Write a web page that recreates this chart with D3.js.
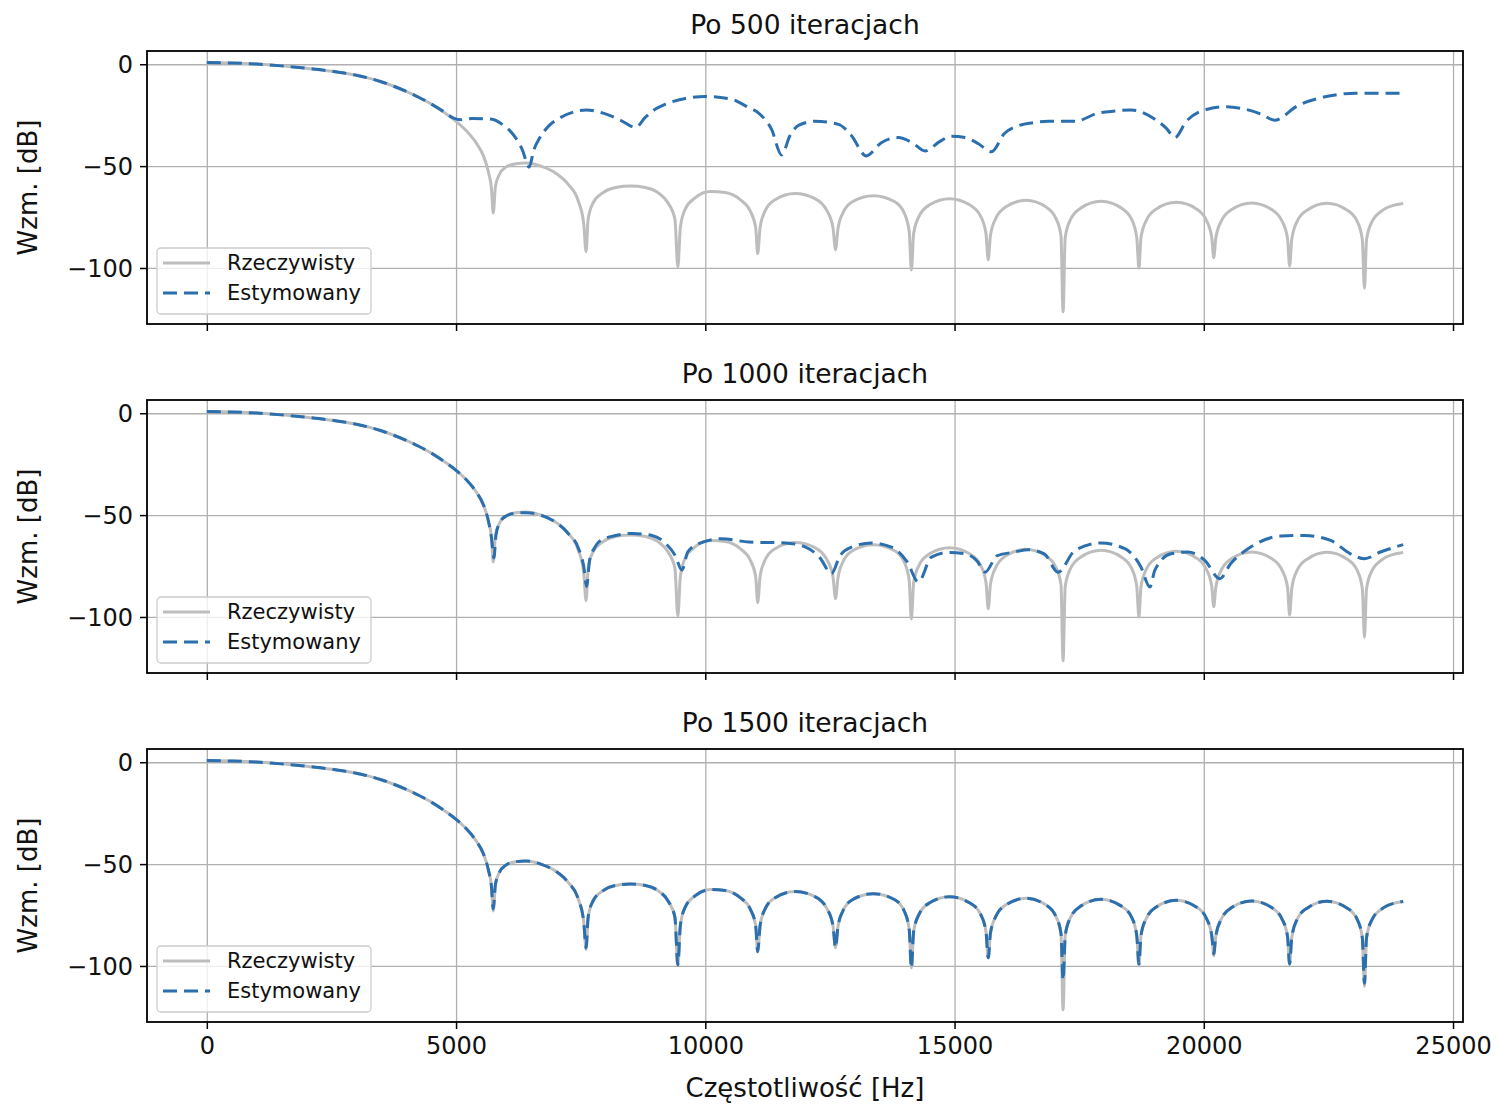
<!DOCTYPE html>
<html>
<head>
<meta charset="utf-8">
<script src="https://cdn.jsdelivr.net/npm/d3@7"></script>
<style>
    body { margin: 0; background: #fff; }
    text { font-family: "DejaVu Sans", sans-serif; fill: #111; }
</style>
</head>
<body>
<div id="chart"></div>
<script>
// --- data ---
var titles = ["Po 500 iteracjach", "Po 1000 iteracjach", "Po 1500 iteracjach"];
var seriesNames = ["Rzeczywisty", "Estymowany"];
var xTicks = [0, 5000, 10000, 15000, 20000, 25000];
var yTicks = [0, -50, -100];

// real response (same in every panel) and estimate after 1500 iterations
var freqReal = [0,500,1000,1500,2000,2500,2750,3000,3250,3500,3750,4000,4250,4500,4750,5000,5200,5400,5550,5650,5710,5746,
    5790,5870,6000,6200,6400,6700,7000,7250,7450,7560,7608,
    7650,7750,7950,8200,8500,8800,9050,9250,9390,9449,
    9500,9600,9800,10100,10400,10700,10900,11010,11051,
    11100,11200,11400,11800,12200,12430,12560,12613,
    12660,12760,12950,13370,13800,13990,14090,14134,
    14180,14290,14500,14900,15300,15520,15630,15676,
    15720,15830,16030,16430,16830,17030,17135,17177,
    17220,17330,17540,17940,18340,18550,18655,18699,
    18740,18850,19050,19450,19850,20050,20160,20200,
    20240,20350,20560,20960,21360,21570,21680,21722,
    21765,21875,22080,22470,22870,23075,23180,23223,
    23265,23380,23600,23850,24000];
var dbReal = [0.8,0.6,0.1,-0.8,-2.0,-3.4,-4.3,-5.4,-6.8,-8.6,-10.8,-13.3,-16.2,-19.5,-23.5,-28.0,-32.5,-38.5,-45,-53,-61,-73,
    -60,-54,-50.5,-48.8,-48.5,-50,-53.5,-59,-67,-78,-92,
    -76,-68,-63,-60.5,-59.8,-60.5,-63,-68,-76,-99.5,
    -80,-71,-65.5,-62.5,-63,-66.5,-72,-80,-93,
    -80,-72,-66.5,-63.5,-66,-71.5,-80,-91,
    -81,-73,-67.5,-64.5,-67.5,-73,-82,-101,
    -83,-74.5,-69,-66,-69,-74.5,-83,-96,
    -84,-75.5,-70,-66.8,-70,-75.5,-84,-121.5,
    -85,-76,-70.5,-67.3,-70.5,-76,-85,-100,
    -85,-76.5,-71,-67.8,-71,-76.5,-85,-95,
    -85.5,-77,-71.3,-68.1,-71.3,-77,-85.5,-99,
    -86,-77,-71.5,-68.2,-71.5,-77,-86,-110,
    -86,-77,-71.5,-69,-68.3];
var dbEst1500 = [0.8,0.6,0.1,-0.8,-2.0,-3.4,-4.3,-5.4,-6.8,-8.6,-10.8,-13.3,-16.2,-19.5,-23.5,-28.0,-32.5,-38.5,-45,-53,-61,-72,
    -60,-54,-50.5,-48.8,-48.5,-50,-53.5,-59,-67,-78,-91,
    -76,-68,-63,-60.5,-59.8,-60.5,-63,-68,-76,-99.5,
    -80,-71,-65.5,-62.5,-63,-66.5,-72,-80,-93,
    -80,-72,-66.5,-63.5,-66,-71.5,-80,-91,
    -81,-73,-67.5,-64.5,-67.5,-73,-82,-101,
    -83,-74.5,-69,-66,-69,-74.5,-83,-96,
    -84,-75.5,-70,-66.8,-70,-75.5,-84,-107,
    -85,-76,-70.5,-67.3,-70.5,-76,-85,-99,
    -85,-76.5,-71,-67.8,-71,-76.5,-85,-94,
    -85.5,-77,-71.3,-68.1,-71.3,-77,-85.5,-99,
    -86,-77,-71.5,-68.2,-71.5,-77,-86,-108.5,
    -86,-77,-71.5,-69,-68.3];

// estimate after 500 iterations
var freq500 = [0,500,1000,1500,2000,2500,2750,3000,3250,3500,3750,4000,4250,4500,4750,4950,5100,5325,
    5725,5950,6130,6330,6466,6560,6670,
    6870,7070,7350,7610,8010,8300,8600,8800,9000,9200,9600,10000,10500,10850,11070,11330,11530,11700,11870,12200,
    12670,12930,13230,13530,13870,14150,14410,14700,14935,15210,15480,15740,16000,16276,16600,16880,17420,17880,18220,18540,
    18800,19020,19250,19420,19650,19880,20420,20820,21150,21420,21880,22540,22940,23500,24000];
var db500 = [0.8,0.6,0.1,-0.8,-2.0,-3.4,-4.3,-5.4,-6.8,-8.6,-10.8,-13.3,-16.2,-19.5,-23.2,-26.5,-27.3,-26.6,
    -27,-30,-34,-42,-50.5,-42,-36.5,
    -30,-26.5,-23.5,-22.4,-24.5,-27.5,-31,-26,-22,-19.6,-16.8,-15.8,-17,-21,-24,-32,-44.5,-35,-30,-28,
    -29.5,-35,-45,-38.5,-36,-38.5,-42.6,-38,-35.3,-36,-39,-43,-34,-30.2,-28.6,-28,-28,-24,-23,-22.4,
    -24,-27,-31.5,-36,-28,-23.7,-20.9,-22,-24.5,-27.5,-20.4,-15.5,-14.3,-14.2,-14.2];

// estimate after 1000 iterations
var freq1000 = [0,500,1000,1500,2000,2500,2750,3000,3250,3500,3750,4000,4250,4500,4750,5000,5200,5400,5550,5650,5710,5760,
    5800,5870,6000,
    6200,6400,6700,7000,7250,7450,7560,7620,7680,7780,7868,8200,8529,8929,9209,9400,9530,9650,9870,10330,
    10871,11612,12012,12300,12533,12700,12933,13333,13734,14050,14274,14535,14875,15215,15450,15616,15850,16216,16476,16800,
    17077,17417,17938,18418,18739,18919,19019,19339,19680,20020,20320,20541,20941,21542,22022,22543,22943,23223,23544,24000];
var db1000 = [0.8,0.6,0.1,-0.8,-2.0,-3.4,-4.3,-5.4,-6.8,-8.6,-10.8,-13.3,-16.2,-19.5,-23.5,-28.0,-32.5,-38.5,-45,-53,-61,-71,
    -60,-54,-50.5,
    -49,-48.8,-50,-53.5,-59,-66,-75,-85,-72,-66,-63,-60,-59,-60,-64,-70,-77,-68,-64,-61.6,
    -63.2,-63.7,-65.7,-71,-78.7,-70,-65.7,-63.7,-65.7,-73,-82.8,-70.6,-68.3,-69,-72.5,-78,-70,-68.1,-67,-69,
    -78,-67.3,-63.7,-66.5,-75.5,-85.3,-77,-69,-68.1,-72.2,-81.2,-73.8,-65.7,-60.3,-60,-62.4,-69,-71.4,-68.1,-64.5];

var estFreqs = [freq500, freq1000, freqReal];
var estValues = [db500, db1000, dbEst1500];

// --- layout ---
var svgWidth = 1499, svgHeight = 1107;
var margin = { left: 147, right: 36 };
var panelTops = [51, 400, 749];
var panelHeight = 273;
var chartWidth = svgWidth - margin.left - margin.right;

var greyColor = "#bdbdbd";
var blueColor = "#2b6fae";

var svg = d3.select("#chart")
    .append("svg")
    .attr("width", svgWidth)
    .attr("height", svgHeight);

var xScale = d3.scaleLinear().domain([-1200, 25200]).range([0, chartWidth]);
var yScale = d3.scaleLinear().domain([-127.5, 6.5]).range([panelHeight, 0]);

var line = d3.line()
    .x(d => xScale(d[0]))
    .y(d => yScale(d[1]))
    .curve(d3.curveMonotoneX);

var minusFmt = d => (d < 0 ? "\u2212" + Math.abs(d) : String(d));
var realPoints = freqReal.map((f, i) => [f, dbReal[i]]);

titles.forEach(function(title, i) {
    var g = svg.append("g")
        .attr("transform", `translate(${margin.left},${panelTops[i]})`);

    // grid
    g.append("g")
        .attr("class", "grid")
        .attr("transform", `translate(0,${panelHeight})`)
        .call(d3.axisBottom(xScale).tickValues(xTicks).tickSize(-panelHeight).tickFormat(""));
    g.append("g")
        .attr("class", "grid")
        .call(d3.axisLeft(yScale).tickValues(yTicks).tickSize(-chartWidth).tickFormat(""));
    g.selectAll(".grid .domain").remove();
    g.selectAll(".grid line").attr("stroke", "#b0b0b0").attr("stroke-width", 1.3);

    // lines
    g.append("path")
        .datum(realPoints)
        .attr("fill", "none")
        .attr("stroke", greyColor)
        .attr("stroke-width", 3)
        .attr("d", line);

    var est = estFreqs[i].map((f, j) => [f, estValues[i][j]]);
    g.append("path")
        .datum(est)
        .attr("fill", "none")
        .attr("stroke", blueColor)
        .attr("stroke-width", 3)
        .attr("stroke-dasharray", "14,7")
        .attr("d", line);

    // axes
    var xAxis = g.append("g")
        .attr("transform", `translate(0,${panelHeight})`)
        .call(d3.axisBottom(xScale).tickValues(xTicks).tickSizeInner(7).tickSizeOuter(0).tickPadding(8)
            .tickFormat(i === 2 ? d3.format("d") : ""));
    var yAxis = g.append("g")
        .call(d3.axisLeft(yScale).tickValues(yTicks).tickSizeInner(7).tickSizeOuter(0).tickPadding(7)
            .tickFormat(minusFmt));
    [xAxis, yAxis].forEach(function(ax) {
        ax.select(".domain").remove();
        ax.selectAll(".tick line").attr("stroke", "#000").attr("stroke-width", 1.5);
        ax.selectAll(".tick text").attr("font-size", 24).attr("fill", "#111");
    });
    yAxis.selectAll(".tick text").attr("dy", "0.35em");

    // frame
    g.append("rect")
        .attr("width", chartWidth)
        .attr("height", panelHeight)
        .attr("fill", "none")
        .attr("stroke", "#000")
        .attr("stroke-width", 1.8);

    // title
    g.append("text")
        .attr("x", chartWidth / 2)
        .attr("y", -17)
        .attr("text-anchor", "middle")
        .attr("font-size", 26.5)
        .text(title);

    // y label
    g.append("text")
        .attr("transform", `translate(${28 - margin.left},${panelHeight / 2}) rotate(-90)`)
        .attr("text-anchor", "middle")
        .attr("dy", "0.35em")
        .attr("font-size", 26)
        .text("Wzm. [dB]");

    // legend
    var legend = g.append("g")
        .attr("transform", `translate(10,${panelHeight - 10 - 66})`);
    legend.append("rect")
        .attr("width", 214)
        .attr("height", 66)
        .attr("rx", 4)
        .attr("fill", "#fff")
        .attr("fill-opacity", 0.8)
        .attr("stroke", "#cccccc")
        .attr("stroke-width", 1.3);
    seriesNames.forEach(function(name, k) {
        var yy = 15 + k * 30;
        legend.append("line")
            .attr("x1", 6).attr("x2", 53)
            .attr("y1", yy).attr("y2", yy)
            .attr("stroke", k === 0 ? greyColor : blueColor)
            .attr("stroke-width", 3)
            .attr("stroke-dasharray", k === 0 ? null : "14,7");
        legend.append("text")
            .attr("x", 70)
            .attr("y", yy)
            .attr("dy", "0.35em")
            .attr("font-size", 21)
            .text(name);
    });
});

// x label
svg.append("text")
    .attr("x", margin.left + chartWidth / 2)
    .attr("y", 1088)
    .attr("dy", "0.35em")
    .attr("text-anchor", "middle")
    .attr("font-size", 26)
    .text("Częstotliwość [Hz]");
</script>
</body>
</html>
